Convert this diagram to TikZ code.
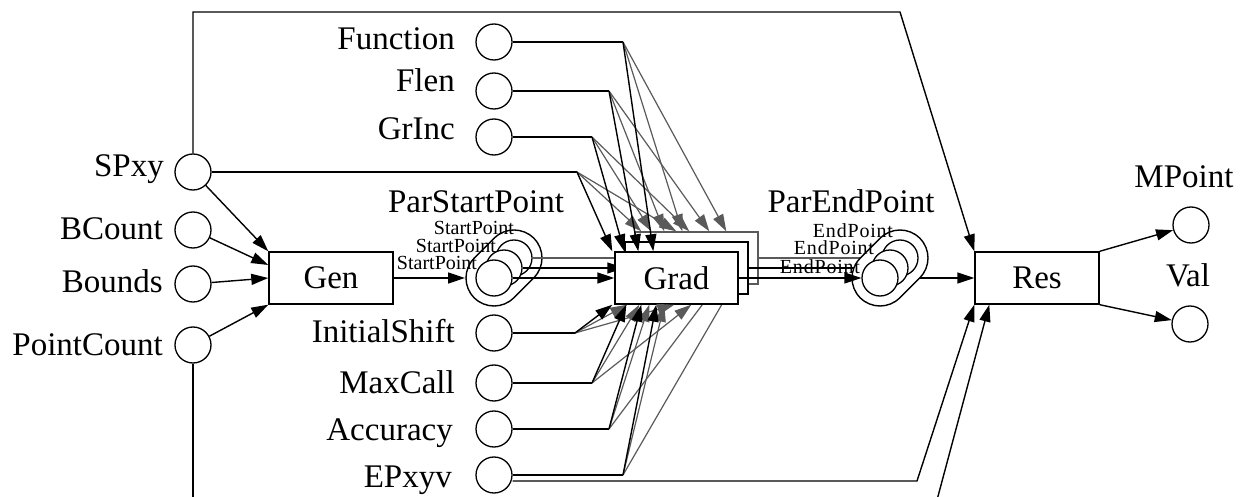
\documentclass[tikz,border=0pt]{standalone}
\usepackage{fontspec}
\setmainfont{Liberation Serif}
\usetikzlibrary{arrows.meta,calc}
\definecolor{fancol}{HTML}{5A5A5A}
\begin{document}
\begin{tikzpicture}[x=1pt,y=-1pt,
  port/.style={circle, draw, fill=white, line width=1.3pt, minimum size=36pt, inner sep=0pt},
  proc/.style={draw, fill=white, line width=1.4pt, minimum width=124pt, minimum height=52pt, inner sep=0pt, font=\fontsize{33}{33}\selectfont},
  big/.style={font=\fontsize{33}{33}\selectfont, inner sep=0pt},
  tiny/.style={font=\fontsize{20}{20}\selectfont, inner sep=0pt},
  tinysp/.style={font=\fontsize{20}{20}\selectfont\addfontfeature{LetterSpace=4}, inner sep=0pt},
  wire/.style={line width=1.4pt},
  feed/.style={wire, -{Triangle[length=17pt,width=11pt]}},
  gwire/.style={line width=1.2pt, draw=fancol},
  gfeed/.style={gwire, -{Triangle[length=17pt,width=11pt]}},
  hull/.style={wire, fill=white}
]
\useasboundingbox[fill=white] (0,0) rectangle (1243,497);

% ---------- ports ----------
\node[port] (spxy)   at (193,172) {};
\node[port] (bcount) at (193,230) {};
\node[port] (bounds) at (193,284) {};
\node[port] (pcount) at (193,345) {};
\node[port] (func)   at (494,42) {};
\node[port] (flen)   at (494,91) {};
\node[port] (grinc)  at (494,137) {};
\node[port] (ishift) at (494,333) {};
\node[port] (maxcall) at (494,383) {};
\node[port] (acc)    at (494,429) {};
\node[port] (epxyv)  at (494,475) {};
\node[port] (mpoint) at (1191,225) {};
\node[port] (val)    at (1190,324) {};

% ---------- bend points ----------
\coordinate (topL) at (193,12);
\coordinate (topR) at (900,12);
\coordinate (jsp) at (577,172);
\coordinate (jgr) at (592,137);
\coordinate (jfl) at (609,91);
\coordinate (jfu) at (623,42);
\coordinate (jis) at (575,333);
\coordinate (jmc) at (592,383);
\coordinate (jac) at (609,429);
\coordinate (jep) at (623,475);
\coordinate (epbend) at (917,481);
\coordinate (pcdown) at (193,500);
\coordinate (upfrom) at (937,500);
\coordinate (psin) at (465,278);
\coordinate (peout) at (920,278);
\coordinate (pe3c) at (882,258);
\coordinate (pe2c) at (872,268);

% ---------- ParStartPoint stack ----------
\draw[hull] (494-19.8,278-19.8) -- (494+0.2,278-39.8)
  arc[start angle=225,end angle=405,radius=28] -- (494+19.8,278+19.8)
  arc[start angle=45,end angle=225,radius=28] -- cycle;
\node[port] (ps3) at (514,258) {};
\node[port] (ps2) at (504,268) {};
\node[port] (ps1) at (494,278) {};

% ---------- input stubs ----------
\draw[wire] (spxy.east) -- (jsp);
\draw[wire] (func.east) -- (jfu);
\draw[wire] (flen.east) -- (jfl);
\draw[wire] (grinc.east) -- (jgr);
\draw[wire] (ishift.east) -- (jis);
\draw[wire] (maxcall.east) -- (jmc);
\draw[wire] (acc.east) -- (jac);
\draw[wire] (epxyv.east) -- (jep);

% ---------- Grad, back copies ----------
\node[proc, minimum width=123pt, draw=fancol] (grad3) at (696.5,258) {};
\draw[gfeed] (ps3.east) -- (grad3.west);
\draw[gwire] (jac) -- ([xshift=83pt]grad3.south west);
\draw[gwire] (jep) -- ([xshift=99pt]grad3.south west);
\node[proc, minimum width=123pt] (grad2) at (686.5,268) {};
\draw[feed] (ps2.east) -- (grad2.west);
\foreach \j/\s in {jsp/7, jsp/42, jgr/17, jgr/55, jfl/30, jfl/75, jfu/48, jfu/92}
  \draw[gfeed] (\j) -- ([xshift=\s pt]grad3.north west);

% ---------- Grad, front ----------
\node[proc, minimum width=123pt] (grad) at (676.5,278) {Grad};
\foreach \j/\s in {jis/13, jis/60, jmc/25, jmc/77, jac/35, jep/50}
  \draw[gfeed] (\j) -- ([xshift=\s pt]grad.south west);
\foreach \j/\s in {jsp/-2, jgr/10, jfl/24, jfu/39}
  \draw[feed] (\j) -- ([xshift=\s pt]grad.north west);
\foreach \j/\s in {jis/-2, jmc/12, jac/27, jep/42}
  \draw[feed] (\j) -- ([xshift=\s pt]grad.south west);
\draw[feed] (ps1.east) -- (grad.west);

% ---------- ParEndPoint stack ----------
\draw[gwire] (grad3.east) -- (pe3c);
\draw[wire] (grad2.east) -- (pe2c);
\draw[hull] (880-19.8,278-19.8) -- (880+0.2,278-39.8)
  arc[start angle=225,end angle=405,radius=28] -- (880+19.8,278+19.8)
  arc[start angle=45,end angle=225,radius=28] -- cycle;
\node[port] (pe3) at (900,258) {};
\node[port] (pe2) at (890,268) {};
\node[port] (pe1) at (880,278) {};
\draw[feed] (grad.east) -- (pe1.west);

% ---------- Gen and Res ----------
\node[proc] (gen) at (331,278) {Gen};
\node[proc] (res) at (1037,278) {Res};
\draw[feed] (spxy.north) -- (topL) -- (topR) -- (res.north west);
\draw[feed] (spxy) -- (gen.north west);
\draw[feed] (bcount) -- ([yshift=13pt]gen.west);
\draw[feed] (bounds) -- (gen.west);
\draw[feed] (pcount) -- (gen.south west);
\draw[wire] (pcount.south) -- (pcdown);
\draw[feed] (gen.east) -- (psin);
\draw[feed] (peout) -- (res.west);
\draw[feed] ([yshift=-6pt]epxyv.east) -- (epbend) -- (res.south west);
\draw[feed] (upfrom) -- ([xshift=15pt]res.south west);
\draw[feed] (res.north east) -- (mpoint);
\draw[feed] (res.south east) -- (val);

% ---------- labels ----------
\node[big, anchor=base east] at (164,177) {SPxy};
\node[big, anchor=base east] at (163,240) {BCount};
\node[big, anchor=base east] at (163,292) {Bounds};
\node[big, anchor=base east] at (163,355) {PointCount};
\node[big, anchor=base east] at (455,50) {Function};
\node[big, anchor=base east] at (455,92) {Flen};
\node[big, anchor=base east] at (455,140) {GrInc};
\node[big, anchor=base east] at (455,342) {InitialShift};
\node[big, anchor=base east] at (455,393) {MaxCall};
\node[big, anchor=base east] at (453,440) {Accuracy};
\node[big, anchor=base east] at (452,487) {EPxyv};
\node[big, anchor=base] at (476,213) {ParStartPoint};
\node[big, anchor=base] at (851,213) {ParEndPoint};
\node[big, anchor=base] at (1184,188) {MPoint};
\node[big, anchor=base] at (1188,287) {Val};
\node[tiny, anchor=base] at (437,270) {StartPoint};
\node[tiny, anchor=base] at (456,253) {StartPoint};
\node[tiny, anchor=base] at (474,235) {StartPoint};
\node[tinysp, anchor=base] at (820,273) {EndPoint};
\node[tinysp, anchor=base] at (834,255) {EndPoint};
\node[tinysp, anchor=base] at (853,238) {EndPoint};
\end{tikzpicture}
\end{document}
